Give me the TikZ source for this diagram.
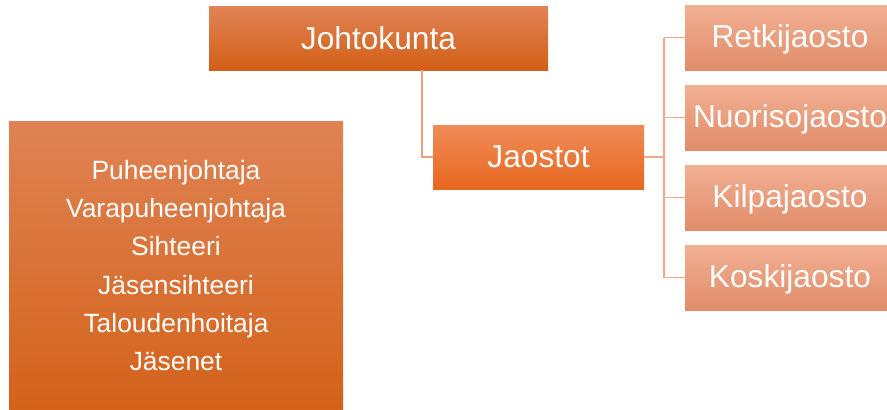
\documentclass[tikz,border=0pt]{standalone}
\usepackage{fontspec}
\setmainfont{Liberation Sans}
\definecolor{jtop}{HTML}{E08356}
\definecolor{jbot}{HTML}{D35F16}
\definecolor{atop}{HTML}{EF8C58}
\definecolor{amid}{HTML}{F47A2E}
\definecolor{abot}{HTML}{E7671F}
\definecolor{rtop}{HTML}{F2B093}
\definecolor{rmid}{HTML}{F4A17F}
\definecolor{rbot}{HTML}{E08C6A}
\definecolor{ltop}{HTML}{DF8354}
\definecolor{lbot}{HTML}{D4621A}
\definecolor{lineA}{HTML}{E9A27A}
\definecolor{lineB}{HTML}{F3A887}
\begin{document}
\begin{tikzpicture}[x=1pt,y=-1pt,
  base/.style={rectangle,inner sep=0pt,outer sep=0pt,anchor=north west,text=white,
    font=\fontsize{31.7}{36}\selectfont},
  topbox/.style={base,top color=jtop,bottom color=jbot},
  midbox/.style={base,top color=atop,middle color=amid,bottom color=abot},
  subbox/.style={base,top color=rtop,middle color=rmid,bottom color=rbot,
    text height=23.1pt,text depth=3.4pt},
  leftbox/.style={base,top color=ltop,bottom color=lbot,align=center,
    font=\fontsize{26.4}{38.3}\selectfont},
  connA/.style={draw=lineA,line width=1.5pt},
  connB/.style={draw=lineB,line width=1.5pt}]
\useasboundingbox (0,0) rectangle (887,410);
\node[topbox,minimum width=339pt,minimum height=64pt] (jk) at (209,6) {Johtokunta};
\node[leftbox,minimum width=334pt,minimum height=289pt] (hall) at (9,121)
  {Puheenjohtaja\\Varapuheenjohtaja\\Sihteeri\\Jäsensihteeri\\Taloudenhoitaja\\Jäsenet};
\node[midbox,minimum width=211pt,minimum height=64pt] (ja) at (433,125) {Jaostot};
\node[subbox,minimum width=202pt,minimum height=65pt] (r1) at (685,5) {\hspace*{8pt}Retkijaosto};
\node[subbox,minimum width=202pt,minimum height=65pt] (r2) at (685,85) {\hspace*{8pt}Nuorisojaosto};
\node[subbox,minimum width=202pt,minimum height=65pt] (r3) at (685,165) {\hspace*{8pt}Kilpajaosto};
\node[subbox,minimum width=202pt,minimum height=65pt] (r4) at (685,245) {\hspace*{8pt}Koskijaosto};
\coordinate (drop) at (422,70);
\coordinate (bus) at (664,157);
\draw[connA] (jk.south -| drop) |- (ja.west);
\draw[connB] (ja.east) -- (bus |- ja.east);
\draw[connB] (bus |- r1.west) -- (bus |- r4.west);
\foreach \r in {r1,r2,r3,r4}{\draw[connB] (bus |- \r.west) -- (\r.west);}
\end{tikzpicture}
\end{document}
